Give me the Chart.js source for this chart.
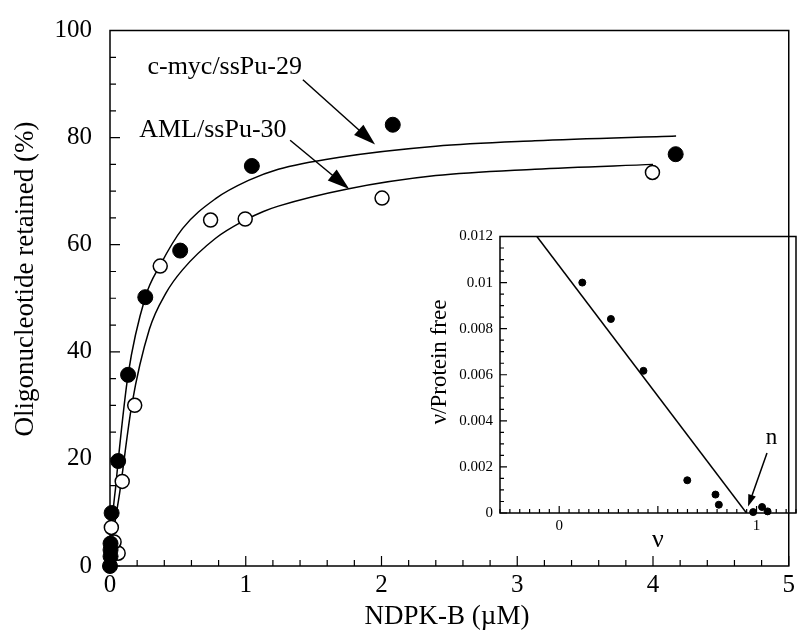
<!DOCTYPE html>
<html>
<head>
<meta charset="utf-8">
<script src="https://cdn.jsdelivr.net/npm/chart.js@4.4.1/dist/chart.umd.min.js"></script>
<style>
  body { margin: 0; background: #fff; }
  #wrap { position: relative; width: 802px; height: 631px; }
  #main { position: absolute; left: 0; top: 0; }
  #inset { position: absolute; left: 410px; top: 222px; }
</style>
</head>
<body>
<div id="wrap">
  <canvas id="main" width="802" height="631"></canvas>
  <canvas id="inset" width="392" height="334"></canvas>
</div>
<script>
const serif = "'Liberation Serif', 'Times New Roman', Times, serif";

// main plot - binding of the oligos vs NDPK-B concentration
const mycX = [0, 0.004, 0.004, 0.004, 0.012, 0.06, 0.133, 0.26, 0.517, 1.045, 2.083, 4.167];
const mycY = [0, 1.8, 3.0, 4.2, 9.9, 19.6, 35.7, 50.2, 58.9, 74.7, 82.4, 76.9];
const amlX = [0.06, 0.03, 0.01, 0.09, 0.182, 0.37, 0.741, 0.996, 2.004, 3.996];
const amlY = [2.4, 4.5, 7.2, 15.8, 30, 56, 64.6, 64.8, 68.7, 73.5];

// fitted curves
const mycFitX = [0, 0.012, 0.044, 0.06, 0.133, 0.26, 0.37, 0.534, 0.778, 1.02, 1.24, 1.68, 2.4, 3.13, 4.17];
const mycFitY = [0, 7, 15.3, 19.6, 35.7, 50.2, 56.2, 63, 68.6, 72, 74.1, 76.3, 78.4, 79.4, 80.3];
const amlFitX = [0, 0.025, 0.073, 0.16, 0.29, 0.413, 0.534, 0.778, 0.996, 1.13, 1.24, 1.75, 2.4, 3.13, 4.0];
const amlFitY = [0, 6, 14, 30, 44.2, 51, 55.3, 61.2, 64.6, 66.2, 67.2, 70.4, 72.9, 74.1, 75.0];

const xTickLabels = [0, 1, 2, 3, 4, 5];
const yTickLabels = [0, 20, 40, 60, 80, 100];

// inset - Scatchard plot
const nuX = [0.117, 0.262, 0.427, 0.649, 0.792, 0.809, 0.983, 1.028, 1.056];
const nuY = [0.0100, 0.00842, 0.00617, 0.00142, 0.0008, 0.00036, 0.00004, 0.00026, 0.00007];
const lineX = [-0.113, 0.949];
const lineY = [0.012, 0];

const insetXTickLabels = [0, 1];
const insetYTickLabels = [0, 0.002, 0.004, 0.006, 0.008, 0.01, 0.012];

const pts = (xs, ys) => xs.map((x, i) => ({ x: x, y: ys[i] }));
const isTick = (v, list) => list.some(t => Math.abs(v - t) < 1e-9);

// frame, inward ticks, titles and arrows drawn on top of the chart
function paperAxes(cfg) {
  return {
    id: 'paperAxes',
    beforeDatasetsDraw(chart) {
      const ctx = chart.ctx, a = chart.chartArea;
      const x = chart.scales.x, y = chart.scales.y;
      ctx.save();
      ctx.strokeStyle = '#000';
      ctx.lineWidth = cfg.frame;
      ctx.strokeRect(a.left, a.top, a.right - a.left, a.bottom - a.top);
      ctx.lineWidth = 1.2;
      ctx.beginPath();
      x.ticks.forEach(t => {
        const px = x.getPixelForValue(t.value);
        const len = isTick(t.value, cfg.xMajor) ? cfg.major : cfg.minor;
        ctx.moveTo(px, a.bottom);
        ctx.lineTo(px, a.bottom - len);
      });
      y.ticks.forEach(t => {
        const py = y.getPixelForValue(t.value);
        const len = isTick(t.value, cfg.yMajor) ? cfg.major : cfg.minor;
        ctx.moveTo(a.left, py);
        ctx.lineTo(a.left + len, py);
      });
      ctx.stroke();
      ctx.restore();
    },
    afterDatasetsDraw(chart) {
      const ctx = chart.ctx;
      const x = chart.scales.x, y = chart.scales.y;
      ctx.save();
      ctx.fillStyle = '#000';
      ctx.strokeStyle = '#000';
      cfg.labels.forEach(l => {
        let px = l.px, py = l.py;
        if (l.at) { px = x.getPixelForValue(l.at[0]); py = y.getPixelForValue(l.at[1]); }
        ctx.font = l.size + 'px ' + serif;
        ctx.textAlign = 'center';
        ctx.textBaseline = 'middle';
        ctx.save();
        ctx.translate(px, py);
        if (l.rotate) ctx.rotate(-Math.PI / 2);
        ctx.fillText(l.text, 0, 0);
        ctx.restore();
      });
      cfg.arrows.forEach(ar => {
        const x0 = x.getPixelForValue(ar.from[0]), y0 = y.getPixelForValue(ar.from[1]);
        const x1 = x.getPixelForValue(ar.to[0]), y1 = y.getPixelForValue(ar.to[1]);
        const ang = Math.atan2(y1 - y0, x1 - x0);
        const c = Math.cos(ang), s = Math.sin(ang);
        ctx.lineWidth = 1.5;
        ctx.beginPath();
        ctx.moveTo(x0, y0);
        ctx.lineTo(x1 - c * ar.head * 0.7, y1 - s * ar.head * 0.7);
        ctx.stroke();
        ctx.beginPath();
        ctx.moveTo(x1, y1);
        ctx.lineTo(x1 - ar.head * c + ar.half * s, y1 - ar.head * s - ar.half * c);
        ctx.lineTo(x1 - ar.head * c - ar.half * s, y1 - ar.head * s + ar.half * c);
        ctx.closePath();
        ctx.fill();
      });
      ctx.restore();
    }
  };
}

const mainChart = new Chart(document.getElementById('main'), {
  type: 'scatter',
  data: {
    datasets: [
      { label: 'c-myc/ssPu-29', data: pts(mycX, mycY), pointRadius: 7.5, backgroundColor: '#000',
        borderColor: '#000', pointBorderWidth: 1, clip: false, order: 1 },
      { label: 'AML/ssPu-30', data: pts(amlX, amlY), pointRadius: 7, backgroundColor: '#fff',
        borderColor: '#000', pointBorderWidth: 1.5, clip: false, order: 1 },
      { label: 'fit c-myc', data: pts(mycFitX, mycFitY), showLine: true, pointRadius: 0,
        borderColor: '#000', borderWidth: 1.5, cubicInterpolationMode: 'monotone', order: 2 },
      { label: 'fit AML', data: pts(amlFitX, amlFitY), showLine: true, pointRadius: 0,
        borderColor: '#000', borderWidth: 1.5, cubicInterpolationMode: 'monotone', order: 2 }
    ]
  },
  options: {
    responsive: false,
    animation: false,
    layout: { padding: { top: 25, right: 6, left: 0, bottom: 0 } },
    plugins: { legend: { display: false }, tooltip: { enabled: false } },
    scales: {
      x: {
        type: 'linear', min: 0, max: 5,
        grid: { display: false, drawTicks: false },
        border: { display: false },
        ticks: {
          stepSize: 0.2, autoSkip: false, maxRotation: 0, padding: 7, color: '#000',
          font: { family: serif, size: 25, lineHeight: 1 },
          callback: v => isTick(v, xTickLabels) ? String(Math.round(v)) : ''
        },
        afterFit: s => { s.height = 65; }
      },
      y: {
        type: 'linear', min: 0, max: 100,
        grid: { display: false, drawTicks: false },
        border: { display: false },
        ticks: {
          stepSize: 5, autoSkip: false, padding: 18, color: '#000',
          font: { family: serif, size: 25, lineHeight: 1 },
          callback: v => isTick(v, yTickLabels) ? String(Math.round(v)) : ''
        },
        afterFit: s => { s.width = 110; }
      }
    }
  },
  plugins: [paperAxes({
    frame: 1.5, major: 10, minor: 6,
    xMajor: xTickLabels, yMajor: yTickLabels,
    labels: [
      { text: 'Oligonucleotide retained (%)', px: 26, py: 279, size: 27, rotate: true },
      { text: 'NDPK-B (\u00b5M)', px: 447, py: 617, size: 27 },
      { text: 'c-myc/ssPu-29', at: [0.845, 93.2], size: 26 },
      { text: 'AML/ssPu-30', at: [0.758, 81.3], size: 26 }
    ],
    arrows: [
      { from: [1.421, 90.8], to: [1.953, 78.7], head: 22, half: 7 },
      { from: [1.327, 79.5], to: [1.762, 70.4], head: 22, half: 7 }
    ]
  })]
});

const insetChart = new Chart(document.getElementById('inset'), {
  type: 'scatter',
  data: {
    datasets: [
      { label: 'data', data: pts(nuX, nuY), pointRadius: 3.5, backgroundColor: '#000',
        borderColor: '#000', clip: false, order: 1 },
      { label: 'fit', data: pts(lineX, lineY), showLine: true, pointRadius: 0,
        borderColor: '#000', borderWidth: 1.5, order: 2 }
    ]
  },
  options: {
    responsive: false,
    animation: false,
    layout: { padding: { top: 13, right: 6, left: 0, bottom: 0 } },
    plugins: { legend: { display: false }, tooltip: { enabled: false } },
    scales: {
      x: {
        type: 'linear', min: -0.3, max: 1.2,
        grid: { display: false, drawTicks: false },
        border: { display: false },
        ticks: {
          stepSize: 0.05, autoSkip: false, maxRotation: 0, padding: 6, color: '#000',
          font: { family: serif, size: 15, lineHeight: 1 },
          callback: v => isTick(v, insetXTickLabels) ? String(Math.round(v)) : ''
        },
        afterFit: s => { s.height = 43; }
      },
      y: {
        type: 'linear', min: 0, max: 0.012,
        grid: { display: false, drawTicks: false },
        border: { display: false },
        ticks: {
          stepSize: 0.0005, autoSkip: false, padding: 7, color: '#000',
          font: { family: serif, size: 15, lineHeight: 1 },
          callback: v => isTick(v, insetYTickLabels) ? String(+v.toFixed(3)) : ''
        },
        afterFit: s => { s.width = 90; }
      }
    }
  },
  plugins: [paperAxes({
    frame: 1.5, major: 7, minor: 4,
    xMajor: [0, 0.5, 1], yMajor: insetYTickLabels,
    labels: [
      { text: '\u03bd/Protein free', px: 30, py: 140, size: 23, rotate: true },
      { text: '\u03bd', px: 248, py: 318, size: 26 },
      { text: 'n', at: [1.076, 0.00325], size: 23 }
    ],
    arrows: [
      { from: [1.053, 0.0026], to: [0.957, 0.00028], head: 12, half: 4 }
    ]
  })]
});
</script>
</body>
</html>
